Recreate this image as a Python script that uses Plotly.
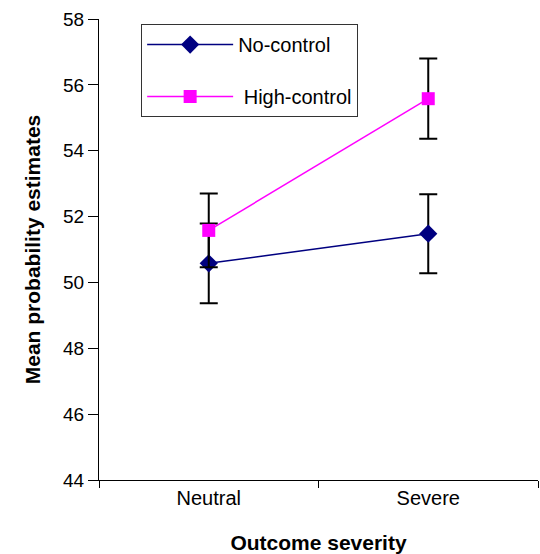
import plotly.graph_objects as go

categories = ["Neutral", "Severe"]
no_control = [50.58, 51.48]
no_control_err = [1.21, 1.2]
high_control = [51.58, 55.58]
high_control_err = [1.12, 1.22]
y_ticks = [44, 46, 48, 50, 52, 54, 56, 58]

FONT = "Liberation Sans, Arial, sans-serif"

fig = go.Figure()
fig.add_trace(go.Scatter(
    x=categories, y=no_control, name="No-control", mode="lines+markers",
    line=dict(color="#000080", width=1.5),
    marker=dict(symbol="diamond", size=14, color="#000080"),
    error_y=dict(type="data", array=no_control_err, visible=True,
                 color="black", thickness=2, width=9),
    legendgroup="a",
))
fig.add_trace(go.Scatter(
    x=categories, y=high_control, name=" High-control", mode="lines+markers",
    line=dict(color="#FF00FF", width=1.5),
    marker=dict(symbol="square", size=13, color="#FF00FF"),
    error_y=dict(type="data", array=high_control_err, visible=True,
                 color="black", thickness=2, width=9),
    legendgroup="b",
))

fig.update_layout(
    width=540, height=554,
    margin=dict(l=99, r=2, t=19, b=74),
    paper_bgcolor="white", plot_bgcolor="white",
    font=dict(family=FONT, color="black", size=18),
    showlegend=True,
    legend=dict(x=0.096, y=0.989, xanchor="left", yanchor="top",
                bgcolor="white", bordercolor="#333333", borderwidth=1,
                font=dict(size=20), tracegroupgap=23, itemwidth=86,
                traceorder="grouped"),
    xaxis=dict(type="category", range=[-0.5, 1.5], showline=True,
               linecolor="black", linewidth=1, ticks="outside",
               tickson="boundaries", ticklen=7, tickcolor="black",
               showgrid=False, zeroline=False, tickfont=dict(size=20),
               title=dict(text="<b>Outcome severity</b>", font=dict(size=21),
                          standoff=28)),
    yaxis=dict(range=[44, 58], tickvals=y_ticks, showline=True,
               linecolor="black", linewidth=1, ticks="outside", ticklen=10,
               tickcolor="black", showgrid=False, zeroline=False,
               tickfont=dict(size=19),
               title=dict(text="<b>Mean probability estimates</b>",
                          font=dict(size=21), standoff=16)),
)

fig.write_html("out.html")
